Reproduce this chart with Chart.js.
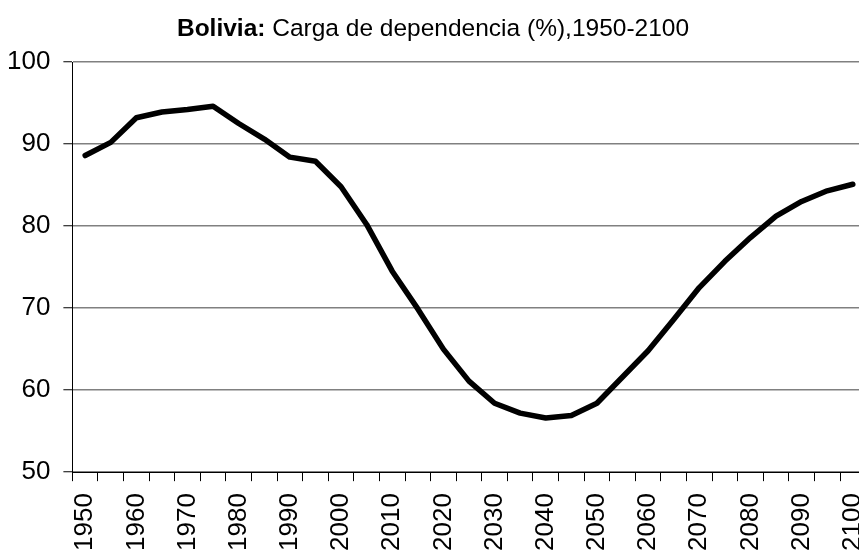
<!DOCTYPE html>
<html>
<head>
<meta charset="utf-8">
<script src="https://cdn.jsdelivr.net/npm/chart.js@4.4.1/dist/chart.umd.min.js"></script>
<style>
  body { margin: 0; overflow: hidden; background: #fff; }
  canvas { display: block; }
</style>
</head>
<body>
<canvas id="myChart" width="896" height="563"></canvas>
<script>
"use strict";
const years = [
  1950, 1955, 1960, 1965, 1970, 1975, 1980, 1985, 1990, 1995, 2000,
  2005, 2010, 2015, 2020, 2025, 2030, 2035, 2040, 2045, 2050,
  2055, 2060, 2065, 2070, 2075, 2080, 2085, 2090, 2095, 2100,
];
const dependencia = [
  88.6, 90.2, 93.2, 93.9, 94.2, 94.6, 92.5, 90.6, 88.4, 87.9, 84.8,
  80.2, 74.5, 69.9, 65.0, 61.1, 58.4, 57.2, 56.6, 56.9, 58.4,
  61.6, 64.8, 68.6, 72.5, 75.7, 78.6, 81.2, 83.0, 84.3, 85.1,
];
const yMin = 50;
const yMax = 100;
const yStep = 10;
const titleBold = "Bolivia:";
const titleRest = " Carga de dependencia (%),1950-2100";

const FONT = "'Liberation Sans', Arial, sans-serif";

// title with a bold first word, drawn by hand
const titlePlugin = {
  id: "mixedTitle",
  afterDraw(chart) {
    const ctx = chart.ctx;
    ctx.save();
    ctx.fillStyle = "#000";
    ctx.textBaseline = "alphabetic";
    ctx.font = "bold 24.5px " + FONT;
    const w1 = ctx.measureText(titleBold).width;
    ctx.font = "24.5px " + FONT;
    const w2 = ctx.measureText(titleRest).width;
    let x = 433 - (w1 + w2) / 2;
    ctx.font = "bold 24.5px " + FONT;
    ctx.fillText(titleBold, x, 36);
    ctx.font = "24.5px " + FONT;
    ctx.fillText(titleRest, x + w1, 36);
    ctx.restore();
  },
};

const createChart = () => {
  const ctx = document.getElementById("myChart").getContext("2d");
  return new Chart(ctx, {
    type: "line",
    data: {
      labels: years,
      datasets: [
        {
          data: dependencia,
          borderColor: "#000",
          borderWidth: 5.5,
          borderCapStyle: "round",
          borderJoinStyle: "round",
          pointRadius: 0,
          tension: 0,
          fill: false,
        },
      ],
    },
    options: {
      responsive: false,
      animation: false,
      devicePixelRatio: 1,
      layout: { padding: { top: 62, left: -6, right: 0, bottom: 0 } },
      plugins: { legend: { display: false }, tooltip: { enabled: false } },
      scales: {
        x: {
          type: "category",
          offset: true,
          grid: {
            offset: true,
            drawOnChartArea: false,
            drawTicks: true,
            tickLength: 9,
            color: "#000",
            tickColor: "#000",
          },
          border: { color: "#000", width: 1 },
          ticks: {
            autoSkip: false,
            maxRotation: 90,
            minRotation: 90,
            padding: 12,
            color: "#000",
            font: { family: FONT, size: 26 },
            callback: (v, i) => (i % 2 === 0 ? years[i] : ""),
          },
        },
        y: {
          min: yMin,
          max: yMax,
          grid: {
            color: "#808080",
            lineWidth: 1.5,
            tickColor: "#000",
            tickWidth: 1,
            tickLength: 9,
          },
          border: { color: "#000", width: 1 },
          ticks: {
            stepSize: yStep,
            padding: 13,
            color: "#000",
            font: { family: FONT, size: 26 },
          },
        },
      },
    },
    plugins: [titlePlugin],
  });
};

createChart();
</script>
</body>
</html>
